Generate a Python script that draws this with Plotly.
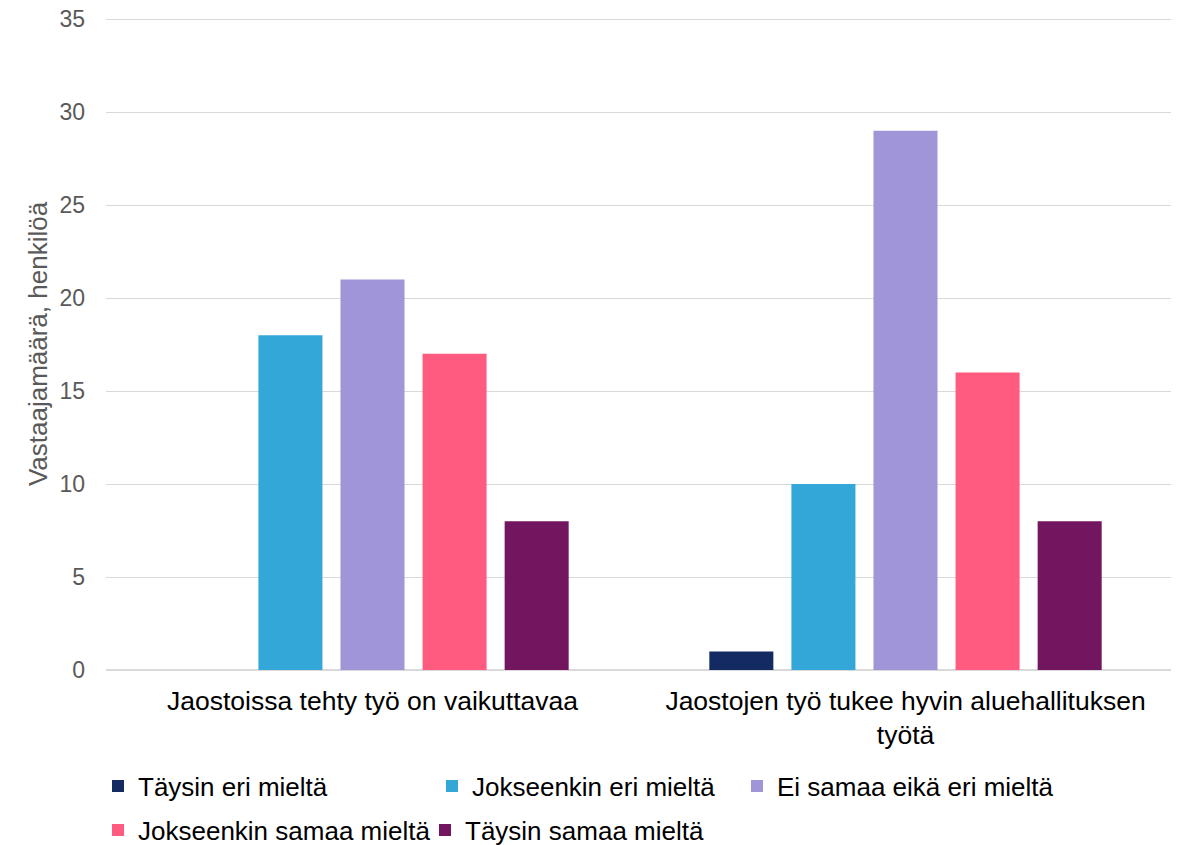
import plotly.graph_objects as go

categories = ["Jaostoissa tehty työ on vaikuttavaa", "Jaostojen työ tukee hyvin aluehallituksen<br>työtä"]
series_names = ["Täysin eri mieltä", "Jokseenkin eri mieltä", "Ei samaa eikä eri mieltä",
                "Jokseenkin samaa mieltä", "Täysin samaa mieltä"]
values = [
    [0, 1],
    [18, 10],
    [21, 29],
    [17, 16],
    [8, 8],
]
colors = ["#132a62", "#33a8d8", "#a095d7", "#ff5a80", "#731660"]
y_ticks = [0, 5, 10, 15, 20, 25, 30, 35]

# the page body adds an 8px offset, so the figure is drawn 8px smaller
OFF = 8
W, H = 1179 - OFF, 845 - OFF
ML, MR, MT, MB = 106 - OFF, 7, 18 - OFF, 175
PW, PH = W - ML - MR, H - MT - MB

# legend entry anchor positions (page pixels: left of entry, row centre)
legend_px = [(98, 786), (432, 786), (737, 786), (98, 830), (425, 830)]

def to_paper(px, py):
    return (px - OFF - ML) / PW, (H - MB - (py - OFF)) / PH

fig = go.Figure()
layout_legends = {}
for i, (name, vals, col) in enumerate(zip(series_names, values, colors)):
    lid = "legend" if i == 0 else f"legend{i+1}"
    fig.add_trace(go.Bar(x=categories, y=vals, name=name, legend=lid,
                         marker=dict(color=col, line=dict(width=0))))
    lx, ly = to_paper(*legend_px[i])
    layout_legends[lid] = dict(x=lx, y=ly, xanchor="left", yanchor="middle",
                               orientation="h", font=dict(size=26, color="#000000"),
                               itemwidth=30, bgcolor="rgba(0,0,0,0)")

fig.update_layout(
    width=W, height=H,
    margin=dict(l=ML, r=MR, t=MT, b=MB, autoexpand=False),
    paper_bgcolor="white", plot_bgcolor="white",
    font=dict(family="Liberation Sans, Arial, sans-serif", color="#000000", size=26),
    barmode="group", bargap=0.23, bargroupgap=0.22,
    showlegend=True,
    xaxis=dict(showline=False, ticks="", automargin=False, ticklabelstandoff=12,
               tickfont=dict(size=26.5, color="#000000")),
    yaxis=dict(range=[0, 35.06], tickvals=y_ticks, showgrid=True, gridcolor="#d9d9d9", gridwidth=1,
               zeroline=True, zerolinecolor="#d9d9d9", zerolinewidth=1.5, automargin=False,
               ticklabeloverflow="allow",
               tickfont=dict(size=23, color="#595959"), ticks="", ticklen=0, ticklabelstandoff=20,
               title=dict(text="Vastaajamäärä, henkilöä", font=dict(size=26, color="#595959"), standoff=4)),
    **layout_legends,
)

fig.write_html("out.html")
